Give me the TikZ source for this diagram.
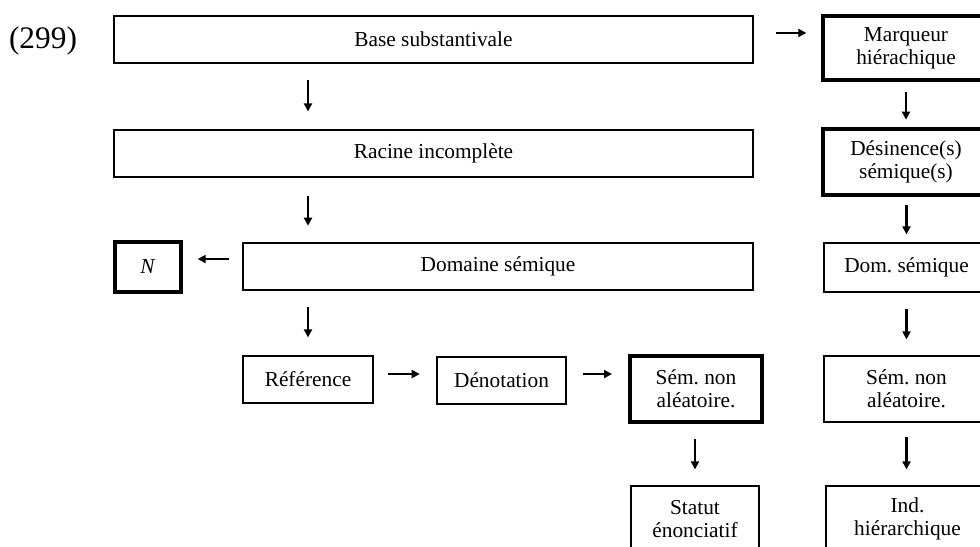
\documentclass[tikz,border=0pt]{standalone}
\usepackage{fontspec}
\setmainfont{Liberation Serif}
\frenchspacing
\usetikzlibrary{arrows.meta}
\tikzset{
  px/.style={x=0.75pt,y=-0.75pt},
  box/.style={draw,line width=0.9pt,rectangle,align=center,inner sep=2pt,
    font=\fontsize{16}{17.25}\selectfont},
  bold box/.style={box,line width=3pt},
  arr/.style={line width=1.6pt,-{Triangle[length=6pt,width=6pt]}},
  gap/.style 2 args={shorten <=#1,shorten >=#2},
}
\begin{document}
\begin{tikzpicture}[px]
\useasboundingbox (0,0) rectangle (980,546);
\clip (0,0) rectangle (980,546);
\node[font=\fontsize{23.5}{27}\selectfont] (num) at (43,41) {(299)};
% left/middle column
\node[box,minimum width=479.25pt,minimum height=35.25pt] (base) at (433.5,39.5) {Base substantivale};
\node[box,minimum width=479.25pt,minimum height=35.25pt] (racine) at (433.5,153.5) {Racine incompl\`ete};
\node[box,minimum width=382.5pt,minimum height=35.25pt] (dom) at (498,266.5) {Domaine s\'emique};
\node[bold box,minimum width=49.5pt,minimum height=37.5pt] (N) at (148,267) {\textit{N}};
\node[box,minimum width=97.5pt,minimum height=35.25pt] (ref) at (308,379.5) {R\'ef\'erence};
\node[box,minimum width=96.75pt,minimum height=35.25pt] (denot) at (501.5,380.5) {D\'enotation};
\node[bold box,minimum width=99pt,minimum height=49.5pt] (sem) at (696,389) {S\'em. non\\al\'eatoire.};
\node[box,minimum width=96pt,minimum height=49.5pt] (statut) at (695,519) {Statut\\\'enonciatif};
% right column
\node[bold box,minimum width=124.5pt,minimum height=48pt] (marq) at (906,48) {Marqueur\\hi\'erachique};
\node[bold box,minimum width=124.5pt,minimum height=49.5pt] (desin) at (906,162) {D\'esinence(s)\\s\'emique(s)};
\node[box,minimum width=123.75pt,minimum height=36.75pt] (domr) at (906.5,267.5) {Dom. s\'emique};
\node[box,minimum width=123.75pt,minimum height=49.5pt] (semr) at (906.5,389) {S\'em. non\\al\'eatoire.};
\node[box,minimum width=122.25pt,minimum height=49.5pt] (ind) at (907.5,519) {Ind.\\hi\'erarchique};
% connectors
\draw[arr,gap={16.5pt}{11pt}] ([yshift=4.9pt]base.east) -- ([yshift=4.9pt]base.east -| marq.west);
\draw[arr,gap={12.5pt}{13.5pt}] (base.south -| ref) -- (racine.north -| ref);
\draw[arr,gap={7.5pt}{5.5pt}] (marq.south) -- (desin.north);
\draw[arr,gap={13.5pt}{12.5pt}] (racine.south -| ref) -- (dom.north -| ref);
\draw[arr,gap={6pt}{6pt}] (desin.south -| domr) -- (domr.north);
\draw[arr,gap={10pt}{11pt}] ([yshift=5.6pt]dom.west) -- ([yshift=5.6pt]dom.west -| N.east);
\draw[arr,gap={12.5pt}{13.5pt}] (dom.south -| ref) -- (ref.north);
\draw[arr,gap={12pt}{12pt}] (domr.south) -- (semr.north);
\draw[arr,gap={11pt}{12.5pt}] ([yshift=4.1pt]ref.east) -- ([yshift=4.1pt]ref.east -| denot.west);
\draw[arr,gap={12pt}{12pt}] ([yshift=4.1pt]ref.east -| denot.east) -- ([yshift=4.1pt]ref.east -| sem.west);
\draw[arr,gap={11pt}{12pt}] (sem.south -| statut) -- (statut.north);
\draw[arr,gap={11pt}{12pt}] (semr.south) -- (ind.north -| semr);
\end{tikzpicture}
\end{document}
